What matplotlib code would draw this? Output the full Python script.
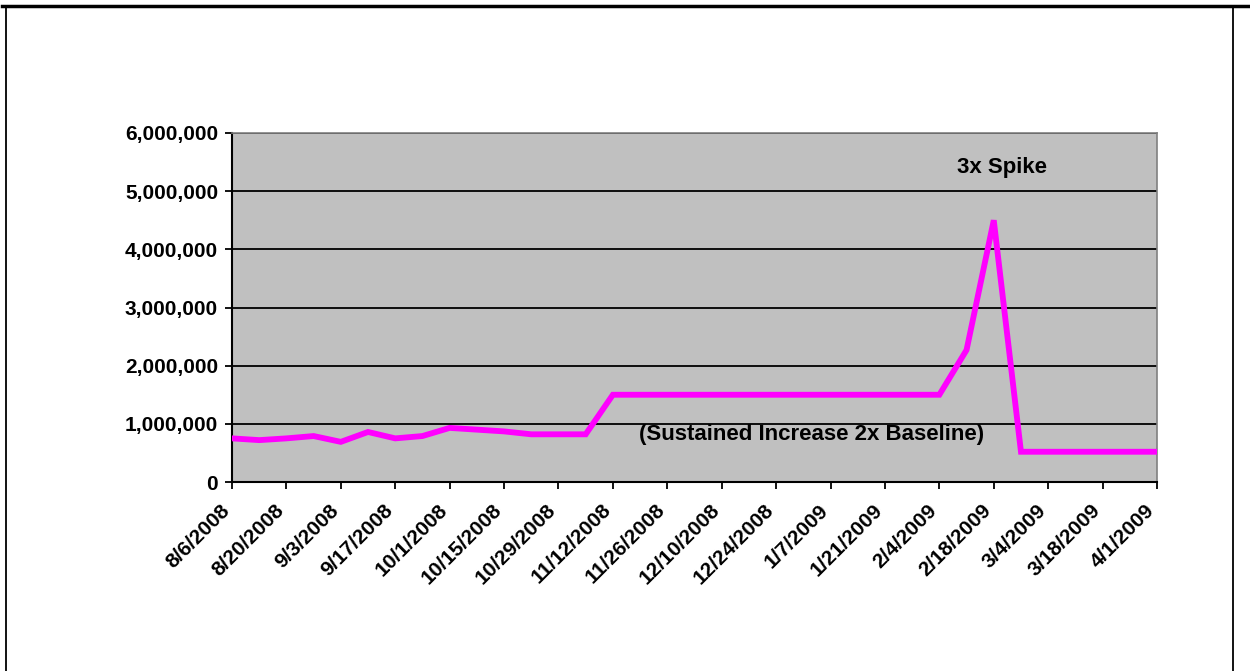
import matplotlib.pyplot as plt
import matplotlib.transforms as mtransforms
from matplotlib.lines import Line2D
from matplotlib.ticker import FuncFormatter
import numpy as np

plt.rcParams['font.family'] = ['Liberation Sans', 'DejaVu Sans']

# weekly values, 8/6/2008 .. 4/1/2009
values = [750000, 720000, 750000, 790000, 690000, 860000, 750000, 790000,
          930000, 900000, 870000, 820000, 820000, 820000,
          1500000, 1500000, 1500000, 1500000, 1500000, 1500000, 1500000,
          1500000, 1500000, 1500000, 1500000, 1500000, 1500000,
          2270000, 4500000, 520000, 520000, 520000, 520000, 520000, 520000]

tick_labels = ['8/6/2008', '8/20/2008', '9/3/2008', '9/17/2008', '10/1/2008',
               '10/15/2008', '10/29/2008', '11/12/2008', '11/26/2008',
               '12/10/2008', '12/24/2008', '1/7/2009', '1/21/2009', '2/4/2009',
               '2/18/2009', '3/4/2009', '3/18/2009', '4/1/2009']

x = np.arange(len(values))

fig = plt.figure(figsize=(12.5, 6.71), dpi=100)
ax = fig.add_axes([232 / 1250, 1 - 482 / 671, 925 / 1250, 349 / 671])
ax.set_facecolor('#C0C0C0')

ax.plot(x, values, color='#FF00FF', lw=4.2, solid_joinstyle='miter', zorder=3)

ax.set_xlim(0, len(values) - 1)
ax.set_ylim(0, 6000000)
ax.set_yticks(np.arange(0, 6000001, 1000000))
ax.yaxis.set_major_formatter(FuncFormatter(lambda v, p: f'{int(v):,}'))
ax.set_xticks(np.arange(0, len(values), 2))
ax.set_xticklabels(tick_labels, rotation=45, ha='right', va='top',
                   rotation_mode='anchor')
ax.grid(axis='y', color='black', lw=1.3, zorder=1)
ax.set_axisbelow(True)

ax.tick_params(axis='both', direction='out', length=5, width=1.3, colors='black',
               labelsize=15)
ax.tick_params(axis='x', pad=4)
ax.tick_params(axis='y', pad=5)
for lbl in ax.get_xticklabels() + ax.get_yticklabels():
    lbl.set_fontweight('bold')

# shift the slanted date labels a bit down-left, like Excel does
shift = mtransforms.ScaledTranslation(-12 / 100, -6 / 100, fig.dpi_scale_trans)
for lbl in ax.get_xticklabels():
    lbl.set_transform(lbl.get_transform() + shift)

for side in ['left', 'bottom']:
    ax.spines[side].set_color('black')
    ax.spines[side].set_linewidth(1.5)
for side in ['right', 'top']:
    ax.spines[side].set_color('#808080')
    ax.spines[side].set_linewidth(1.2)

ax.text(28.3, 5400000, '3x Spike', ha='center', va='center',
        fontsize=16, fontweight='bold')
ax.text(21.3, 810000, '(Sustained Increase 2x Baseline)', ha='center', va='center',
        fontsize=16, fontweight='bold')

# page frame
fig.add_artist(Line2D([2 / 1250, 1], [1 - 5.5 / 671, 1 - 5.5 / 671],
                      color='black', lw=2.5, transform=fig.transFigure))
fig.add_artist(Line2D([6 / 1250, 6 / 1250], [0, 1 - 6 / 671],
                      color='black', lw=1.3, transform=fig.transFigure))
fig.add_artist(Line2D([1233 / 1250, 1233 / 1250], [0, 1 - 6 / 671],
                      color='black', lw=1.3, transform=fig.transFigure))

fig.savefig('out.png', dpi=100)
